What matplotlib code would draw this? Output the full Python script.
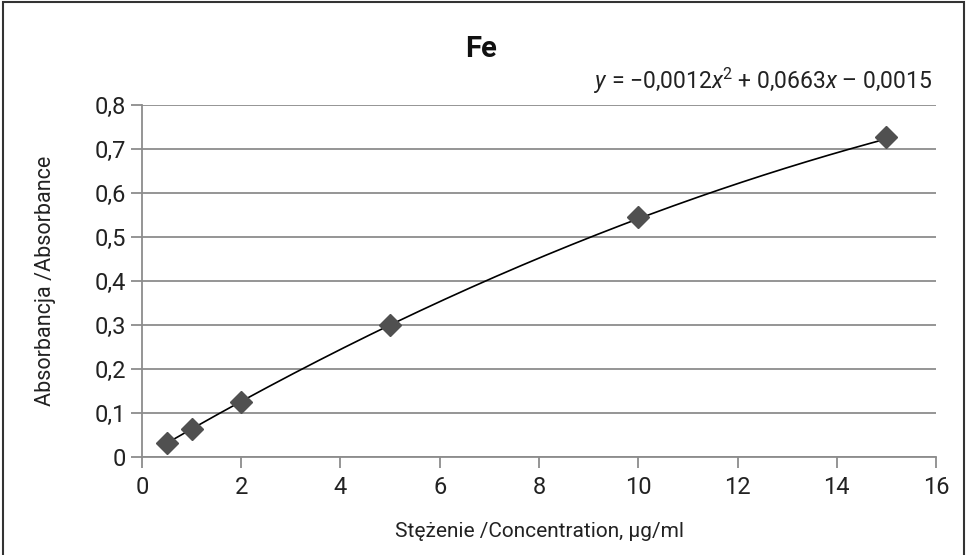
import numpy as np
import matplotlib
matplotlib.use("Agg")
import matplotlib.pyplot as plt
from matplotlib.patches import Rectangle

# Calibration data for Fe
conc = [0.5, 1, 2, 5, 10, 15]
absorbance = [0.032, 0.064, 0.125, 0.300, 0.546, 0.728]

# trendline coefficients (shown on chart)
coef = [-0.0012, 0.0663, -0.0015]

plt.rcParams['font.family'] = ['Roboto', 'DejaVu Sans']
plt.rcParams['mathtext.fontset'] = 'custom'
plt.rcParams['mathtext.it'] = 'Roboto:italic'
plt.rcParams['mathtext.rm'] = 'Roboto'

fig = plt.figure(figsize=(9.67, 5.55), dpi=100)
ax = fig.add_axes([0.1468, 0.1766, 0.8212, 0.6342])

grid_col = '#8c8c8c'

# trendline
xs = np.linspace(min(conc), max(conc), 200)
ax.plot(xs, np.polyval(coef, xs), color='black', lw=1.2, zorder=3)

# data points
ax.plot(conc, absorbance, linestyle='none', marker='D', markersize=11,
        color='#505050', zorder=4)

ax.set_xlim(0, 16)
ax.set_ylim(0, 0.8)
ax.set_xticks(np.arange(0, 17, 2))
ax.set_yticks(np.arange(0, 0.81, 0.1))
ax.set_xticklabels([str(int(v)) for v in np.arange(0, 17, 2)])
ax.set_yticklabels(['0'] + [f'{v:.1f}'.replace('.', ',') for v in np.arange(0.1, 0.81, 0.1)])

ax.grid(axis='y', color=grid_col, lw=1.3)
ax.set_axisbelow(True)
for s in ['top', 'right']:
    ax.spines[s].set_visible(False)
for s in ['left', 'bottom']:
    ax.spines[s].set_color(grid_col)
    ax.spines[s].set_linewidth(1.3)
ax.tick_params(axis='both', direction='out', length=8, width=1.3, color=grid_col,
               labelsize=17, labelcolor='#222222')
ax.tick_params(axis='x', pad=6)

ax.set_xlabel('Stężenie /Concentration, µg/ml', fontsize=15, color='#222222', labelpad=16)
ax.set_ylabel('Absorbancja /Absorbance', fontsize=15.5, color='#222222', labelpad=28)

fig.text(0.497, 0.912, 'Fe', fontsize=21, fontweight='bold', ha='center', va='center', color='#111111')
fig.text(0.964, 0.855, r'$y$' + ' = −0,0012' + r'$x$' + '$^{2}$ + 0,0663' + r'$x$' + ' – 0,0015',
         fontsize=16.5, ha='right', va='center', color='#222222')

# outer frame
fig.patches.append(Rectangle((0.003, -0.01), 0.994, 1.006, transform=fig.transFigure,
                             fill=False, edgecolor='#333333', lw=1.5))

fig.savefig('out.png', dpi=100)
